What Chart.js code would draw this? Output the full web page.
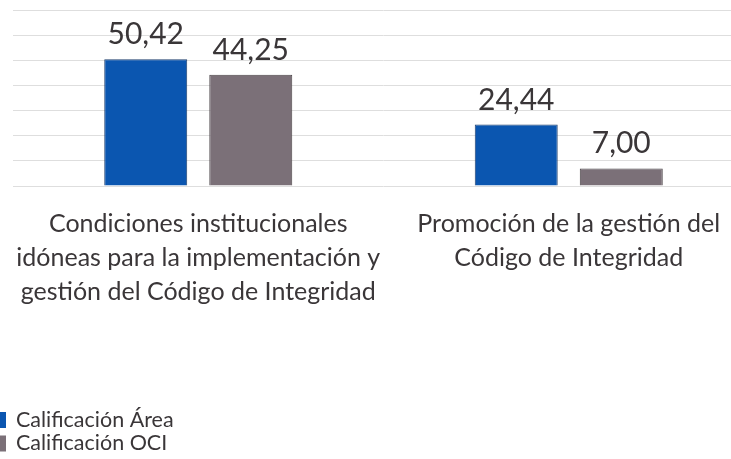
<!DOCTYPE html>
<html>
<head>
<meta charset="utf-8">
<script src="https://cdn.jsdelivr.net/npm/chart.js@4.4.1/dist/chart.umd.min.js"></script>
<style>
    html, body { margin: 0; padding: 0; background: #fff; overflow: hidden; }
    #wrap { position: relative; width: 770px; height: 459px; margin-left: -8px; }
</style>
</head>
<body>
<div id="wrap"><canvas id="scoreChart"></canvas></div>
<script>
const categories = [
    ['Condiciones institucionales', 'idóneas para la implementación y', 'gestión del Código de Integridad'],
    ['Promoción de la gestión del', 'Código de Integridad']
];
const seriesNames = ['Calificación Área', 'Calificación OCI'];
const areaScores = [50.42, 24.44];
const ociScores = [44.25, 7.00];
const yTicks = [0, 10, 20, 30, 40, 50, 60, 70];

const textColor = '#3a3638';
const fontFamily = 'Lato, "Open Sans", sans-serif';

const fmt = (v) => v.toFixed(2).replace('.', ',');

// value labels above each bar
const valueLabels = {
    id: 'valueLabels',
    afterDatasetsDraw(chart) {
        const { ctx } = chart;
        ctx.save();
        ctx.font = '30px ' + fontFamily;
        ctx.fillStyle = textColor;
        ctx.textAlign = 'center';
        ctx.textBaseline = 'alphabetic';
        chart.data.datasets.forEach((ds, i) => {
            chart.getDatasetMeta(i).data.forEach((bar, j) => {
                ctx.fillText(fmt(ds.data[j]), bar.x, bar.y - 15);
            });
        });
        ctx.restore();
    }
};

// legend stacked at the bottom left
const stackedLegend = {
    id: 'stackedLegend',
    afterDraw(chart) {
        const { ctx } = chart;
        ctx.save();
        ctx.font = '21.5px ' + fontFamily;
        ctx.textBaseline = 'middle';
        chart.data.datasets.forEach((ds, i) => {
            const y = 420 + i * 23.5;
            ctx.fillStyle = ds.backgroundColor;
            ctx.fillRect(1, y - 8, 13, 16);
            ctx.fillStyle = textColor;
            ctx.fillText(ds.label, 24, y);
        });
        ctx.restore();
    }
};

new Chart(document.getElementById('scoreChart').getContext('2d'), {
    type: 'bar',
    data: {
        labels: categories,
        datasets: [
            {
                label: seriesNames[0],
                data: areaScores,
                backgroundColor: '#0b56b0',
                borderColor: '#21406e',
                borderWidth: 1
            },
            {
                label: seriesNames[1],
                data: ociScores,
                backgroundColor: '#7b7078',
                borderColor: '#4a4347',
                borderWidth: 1
            }
        ]
    },
    options: {
        responsive: true,
        maintainAspectRatio: false,
        animation: false,
        categoryPercentage: 0.567,
        barPercentage: 0.79,
        layout: { padding: { top: 10, left: 21, right: 8, bottom: 0 } },
        scales: {
            y: {
                min: 0,
                max: 70,
                afterBuildTicks: (scale) => { scale.ticks = yTicks.map(v => ({ value: v })); },
                ticks: { display: false },
                border: { display: false },
                grid: { color: '#dedede', drawTicks: false }
            },
            x: {
                afterFit: (scale) => { scale.height = 273; },
                border: { display: false },
                grid: { display: false },
                ticks: {
                    color: textColor,
                    padding: 13,
                    maxRotation: 0,
                    autoSkip: false,
                    font: { size: 25, family: fontFamily, lineHeight: 1.36 }
                }
            }
        },
        plugins: {
            legend: { display: false },
            tooltip: { enabled: false }
        }
    },
    plugins: [valueLabels, stackedLegend]
});
</script>
</body>
</html>
